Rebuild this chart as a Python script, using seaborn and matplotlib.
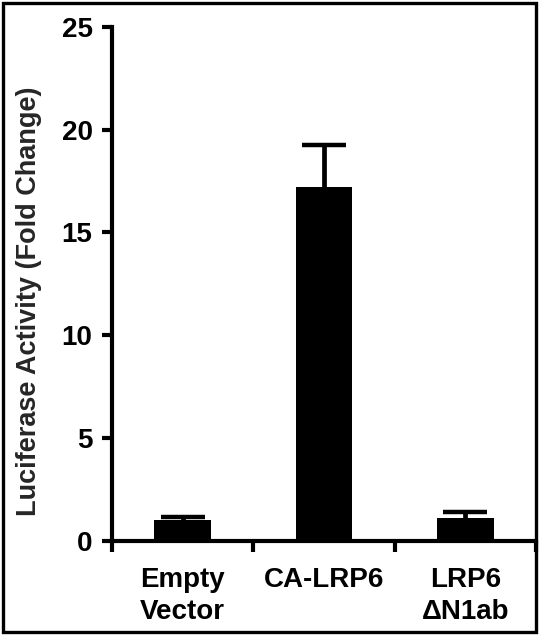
import numpy as np
import matplotlib
matplotlib.use("Agg")
import matplotlib.pyplot as plt
import seaborn as sns
from matplotlib.patches import Rectangle

# data
groups = ["Empty\nVector", "CA-LRP6", "LRP6\n\u0394N1ab"]
fold_change = [1.0, 17.2, 1.08]
sem = [0.13, 2.05, 0.29]
y_ticks = [0, 5, 10, 15, 20, 25]

sns.set_theme(style="white")
plt.rcParams['font.family'] = ['Liberation Sans', 'DejaVu Sans']
plt.rcParams['font.weight'] = 'bold'

fig = plt.figure(figsize=(5.4, 6.35), dpi=100)
ax = fig.add_axes([112 / 540, 0.1488, 424 / 540, 0.809])

pos = np.arange(len(groups))
sns.barplot(x=pos, y=fold_change, color="black", width=0.4, errorbar=None,
            saturation=1, native_scale=True, edgecolor="black", linewidth=0,
            ax=ax, zorder=3)
_, caps, _ = ax.errorbar(pos, fold_change, yerr=[np.zeros(len(sem)), sem],
                         fmt="none", ecolor="black", elinewidth=3.4,
                         capsize=16, capthick=3.2, zorder=2)
# only the upper caps are wanted
for cap in caps:
    if np.allclose(cap.get_ydata(), fold_change):
        cap.set_visible(False)

ax.set_ylim(0, 25)
ax.set_xlim(-0.5, 2.46)
ax.set_yticks(y_ticks)
ax.set_yticklabels([str(t) for t in y_ticks], fontsize=20, fontweight='bold')

# boundary ticks on x axis, labels in between
ax.set_xticks([-0.5, 0.5, 1.5, 2.5])
ax.set_xticklabels([])
ax.set_xticks(pos, groups, minor=True)
for lab in ax.get_xticklabels(minor=True):
    lab.set_fontsize(20)
    lab.set_fontweight('bold')
    lab.set_linespacing(1.3)

ax.tick_params(axis='y', which='major', direction='out', length=7, width=3,
               pad=7, color='black', left=True, labelcolor='black')
ax.tick_params(axis='x', which='major', direction='out', length=8, width=3,
               color='black', bottom=True)
ax.tick_params(axis='x', which='minor', length=0, pad=19, labelcolor='black')

for side in ['top', 'right']:
    ax.spines[side].set_visible(False)
for side in ['left', 'bottom']:
    ax.spines[side].set_linewidth(3)
    ax.spines[side].set_color('black')
ax.set_xlabel("")
ax.set_ylabel("Luciferase Activity (Fold Change)", fontsize=19.5, fontweight='bold')
ax.yaxis.set_label_coords(-0.165, 0.465)
ax.grid(False)

# border around whole image
fig.patches.append(Rectangle((3 / 540, 3 / 635), 533 / 540, 629 / 635,
                             transform=fig.transFigure, fill=False,
                             edgecolor='black', linewidth=2.4, zorder=10))

fig.savefig("out.png", dpi=100)
